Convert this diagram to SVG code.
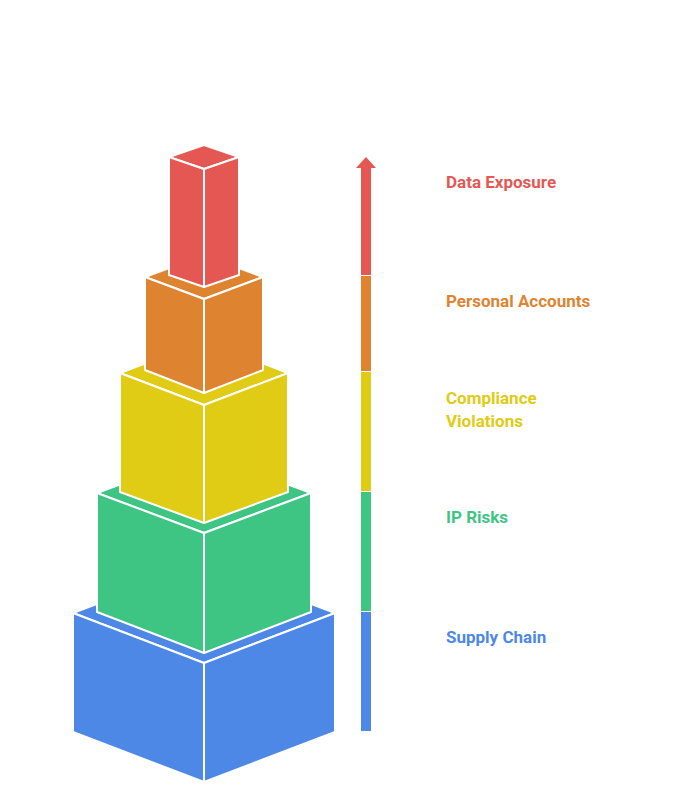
<svg xmlns="http://www.w3.org/2000/svg" width="696" height="798" viewBox="0 0 696 798">
<style>
.f{stroke:#fff;stroke-width:2;stroke-linejoin:round}
.t{font-family:"Roboto","Liberation Sans",sans-serif;font-weight:bold;font-size:17px}
</style>
<rect width="696" height="798" fill="#fff"/>
<g id="blue" fill="#4e88e6" class="f">
<polygon points="204,563 335,613 204,663 73,613"/>
<polygon points="73,613 204,663 204,782 73,732"/>
<polygon points="335,613 204,663 204,782 335,732"/>
</g>
<g id="green" fill="#3ec584" class="f">
<polygon points="204,453 311,493 204,533 97,493"/>
<polygon points="97,493 204,533 204,653 97,612"/>
<polygon points="311,493 204,533 204,653 311,612"/>
</g>
<g id="yellow" fill="#e0cb15" class="f">
<polygon points="204,341 288,373 204,405 120,373"/>
<polygon points="120,373 204,405 204,523 120,492"/>
<polygon points="288,373 204,405 204,523 288,492"/>
</g>
<g id="orange" fill="#de8431" class="f">
<polygon points="204,255 263,277 204,299 145,277"/>
<polygon points="145,277 204,299 204,393 145,370"/>
<polygon points="263,277 204,299 204,393 263,370"/>
</g>
<g id="red" fill="#e55753" class="f">
<polygon points="204,145 239,157 204,169 169,157"/>
<polygon points="169,157 204,169 204,287 169,275"/>
<polygon points="239,157 204,169 204,287 239,275"/>
</g>
<g id="connectors">
<rect x="361" y="612" width="10" height="119" fill="#4e88e6"/>
<rect x="361" y="492" width="10" height="119" fill="#3ec584"/>
<rect x="361" y="372" width="10" height="119" fill="#e0cb15"/>
<rect x="361" y="276" width="10" height="95" fill="#de8431"/>
<rect x="361" y="168" width="10" height="107" fill="#e55753"/>
<polygon points="356,168 366,157 376,168" fill="#e55753"/>
</g>
<g id="labels" class="t">
<text x="446" y="188" fill="#e55753">Data Exposure</text>
<text x="446" y="307" fill="#de8431">Personal Accounts</text>
<text x="446" y="404" fill="#e0cb15">Compliance</text>
<text x="446" y="427" fill="#e0cb15">Violations</text>
<text x="446" y="523" fill="#3ec584">IP Risks</text>
<text x="446" y="643" fill="#4e88e6">Supply Chain</text>
</g>
</svg>
